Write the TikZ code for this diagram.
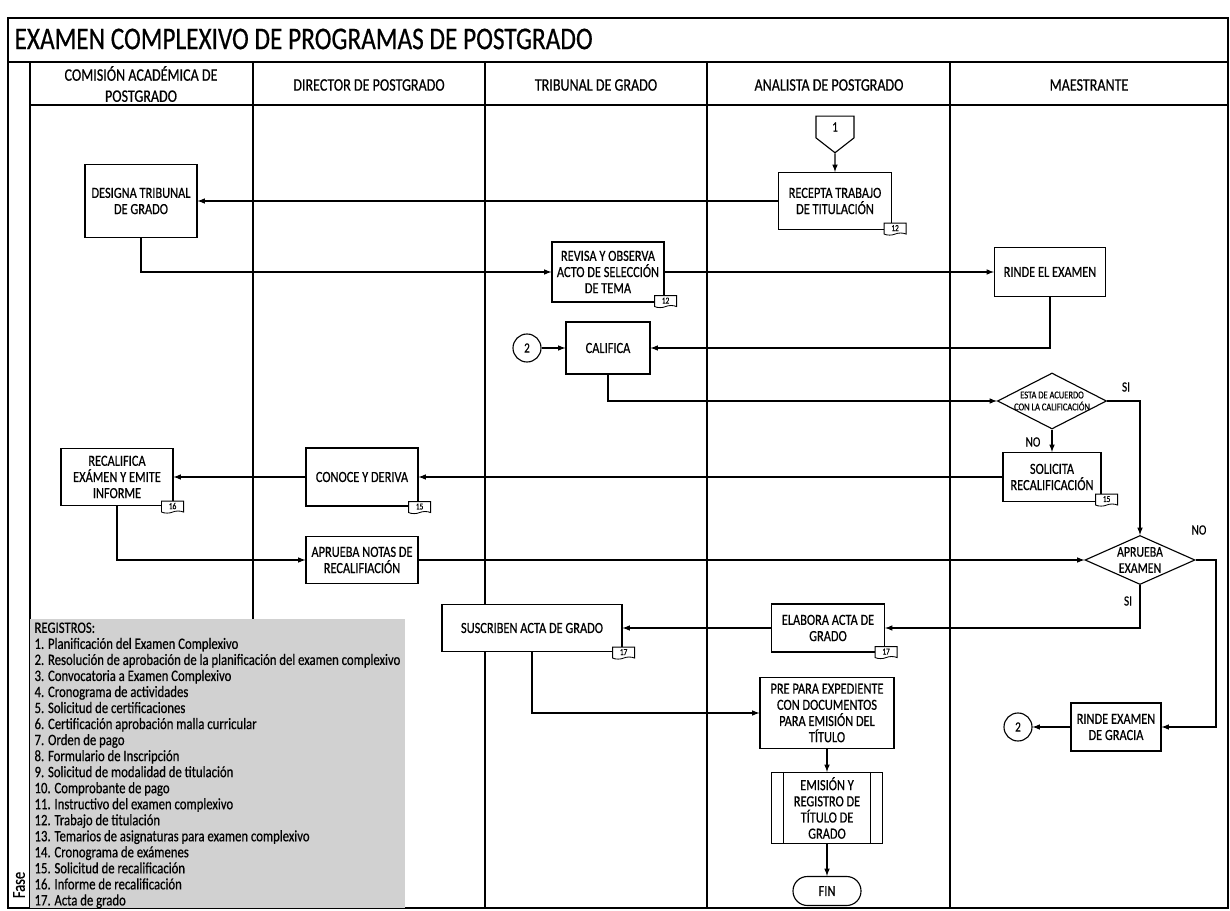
\documentclass[tikz,border=0pt]{standalone}
\usepackage{fontspec}
\setmainfont{Carlito}[FakeStretch=0.8, FakeBold=0.5]
\usepackage{tikz}
\usetikzlibrary{positioning,shapes.geometric,shapes.symbols,arrows}
\definecolor{regfill}{gray}{0.82}

\begin{document}
\begin{tikzpicture}[
x=0.025cm, y=-0.025cm,
line width=0.8pt,
proc/.style={
  draw,
  fill=white,
  align=center,
  inner sep=1pt,
  font=\fontsize{11}{11.5}\selectfont
},
decision/.style={
  draw,
  diamond,
  fill=white,
  inner sep=0pt
},
dtext/.style={
  align=center,
  inner sep=0pt
},
conn/.style={
  draw,
  circle,
  fill=white,
  inner sep=0pt,
  minimum size=0.7cm,
  font=\fontsize{10}{11}\selectfont
},
regdoc/.style={
  draw,
  tape,
  tape bend top=none,
  tape bend height=1.5pt,
  fill=white,
  inner sep=0pt,
  line width=0.6pt,
  minimum width=0.55cm,
  minimum height=0.3cm,
  font=\fontsize{6.5}{6.5}\selectfont
},
lbl/.style={font=\fontsize{10}{11}\selectfont},
head/.style={align=center, inner sep=0pt, font=\fontsize{12.5}{15}\selectfont}
]
\useasboundingbox (0,0) rectangle (1230,911);

\draw (8,18) rectangle (1228,908);
\draw (8,62) -- (1228,62);
\draw (30,62) -- (30,908);
\draw (30,105) -- (1228,105);
\foreach \lx in {253,485,707,950}
  \draw (\lx,62) -- (\lx,908);

\node[anchor=west, inner sep=0pt, font=\fontsize{22.5}{26}\selectfont]
  (title) at (14,39) {EXAMEN COMPLEXIVO DE PROGRAMAS DE POSTGRADO};
\node[rotate=90, font=\fontsize{13}{15}\selectfont]
  (fase) at (19,885) {Fase};
\node[head] (hcom) at (141,84) {COMISIÓN ACADÉMICA DE\\POSTGRADO};
\node[head] (hdir) at (369,85) {DIRECTOR DE POSTGRADO};
\node[head] (htri) at (596,85) {TRIBUNAL DE GRADO};
\node[head] (hana) at (829,85) {ANALISTA DE POSTGRADO};
\node[head] (hmae) at (1089,85) {MAESTRANTE};

\fill[regfill] (30,619) rectangle (405,908);
\node[anchor=north west, align=left, inner sep=0pt, font=\fontsize{11.3}{11.4}\selectfont]
  (reg) at (34,622) {REGISTROS:\\
  1. Planificación del Examen Complexivo\\
  2. Resolución de aprobación de la planificación del examen complexivo\\
  3. Convocatoria a Examen Complexivo\\
  4. Cronograma de actividades\\
  5. Solicitud de certificaciones\\
  6. Certificación aprobación malla curricular\\
  7. Orden de pago\\
  8. Formulario de Inscripción\\
  9. Solicitud de modalidad de titulación\\
  10. Comprobante de pago\\
  11. Instructivo del examen complexivo\\
  12. Trabajo de titulación\\
  13. Temarios de asignaturas para examen complexivo\\
  14. Cronograma de exámenes\\
  15. Solicitud de recalificación\\
  16. Informe de recalificación\\
  17. Acta de grado};

\node[draw, signal, signal to=south, signal from=nowhere, signal pointer angle=104,
  fill=white, inner sep=0pt, minimum width=0.95cm, minimum height=0.6cm,
  font=\fontsize{10}{11}\selectfont]
  (c1) at (835,127) {1};
\node[proc, minimum width=2.825cm, minimum height=1.425cm]
  (recepta) at (835,201) {RECEPTA TRABAJO\\DE TITULACIÓN};
\node[proc, minimum width=2.8cm, minimum height=1.825cm]
  (designa) at (141,201) {DESIGNA TRIBUNAL\\DE GRADO};
\node[proc, minimum width=2.8cm, minimum height=1.5cm]
  (revisa) at (608,272) {REVISA Y OBSERVA\\ACTO DE SELECCIÓN\\DE TEMA};
\node[proc, minimum width=2.775cm, minimum height=1.225cm]
  (rinde) at (1050,272) {RINDE EL EXAMEN};
\node[conn] (c2a) at (527,348) {2};
\node[proc, minimum width=2.1cm, minimum height=1.3cm]
  (califica) at (608,348) {CALIFICA};
\node[decision, minimum width=2.725cm, minimum height=1.4cm,
  label={[dtext, font=\fontsize{7.5}{8.5}\selectfont]center:{ESTA DE ACUERDO\\CON LA CALIFICACIÓN}}]
  (d1) at (1052,401) {};
\node[proc, minimum width=2.45cm, minimum height=1.225cm]
  (solicita) at (1052,477) {SOLICITA\\RECALIFICACIÓN};
\node[proc, minimum width=2.8cm, minimum height=1.45cm]
  (conoce) at (362,477) {CONOCE Y DERIVA};
\node[proc, minimum width=2.8cm, minimum height=1.425cm]
  (recalifica) at (117,477) {RECALIFICA\\EXÁMEN Y EMITE\\INFORME};
\node[proc, minimum width=2.8cm, minimum height=1.175cm]
  (notas) at (362,560) {APRUEBA NOTAS DE\\RECALIFIACIÓN};
\node[decision, minimum width=2.75cm, minimum height=1.225cm,
  label={[dtext, font=\fontsize{10.5}{11.5}\selectfont]center:{APRUEBA\\EXAMEN}}]
  (d2) at (1140,560) {};
\coordinate (nobend) at (1216,560);
\node[proc, minimum width=2.825cm, minimum height=1.2cm]
  (elabora) at (828,628) {ELABORA ACTA DE\\GRADO};
\node[proc, minimum width=4.5cm, minimum height=1.175cm]
  (suscriben) at (532,628) {SUSCRIBEN ACTA DE GRADO};
\node[proc, minimum width=3.35cm, minimum height=1.775cm]
  (prepara) at (827,713) {PRE PARA EXPEDIENTE\\CON DOCUMENTOS\\PARA EMISIÓN DEL\\TÍTULO};
\node[proc, minimum width=2.775cm, minimum height=1.775cm]
  (emision) at (827,808) {EMISIÓN Y\\REGISTRO DE\\TÍTULO DE\\GRADO};
\draw ([xshift=0.325cm]emision.north west) -- ([xshift=0.325cm]emision.south west);
\draw ([xshift=-0.325cm]emision.north east) -- ([xshift=-0.325cm]emision.south east);
\node[proc, rounded corners=0.36cm, minimum width=1.7cm, minimum height=0.725cm]
  (fin) at (827,891) {FIN};
\node[proc, minimum width=2.25cm, minimum height=1.2cm]
  (gracia) at (1116,727) {RINDE EXAMEN\\DE GRACIA};
\node[conn] (c2b) at (1018,727) {2};

\node[regdoc] (t12a) at ([shift={(3,-2)}]recepta.south east) {12};
\node[regdoc] (t12b) at ([shift={(1,-2)}]revisa.south east) {12};
\node[regdoc] (t15a) at ([shift={(1,0)}]conoce.south east) {15};
\node[regdoc] (t15b) at ([shift={(5,-3)}]solicita.south east) {15};
\node[regdoc] (t16) at ([shift={(-1,0)}]recalifica.south east) {16};
\node[regdoc] (t17a) at ([shift={(1,-1)}]elabora.south east) {17};
\node[regdoc] (t17b) at ([shift={(1,0)}]suscriben.south east) {17};

\node[lbl] (si1) at (1126,387) {SI};
\node[lbl] (no1) at (1033,442) {NO};
\node[lbl] (no2) at (1199,530) {NO};
\node[lbl] (si2) at (1128,601) {SI};

\draw[-latex] (c1) -- (recepta);
\draw[-latex] (recepta) -- (designa);
\draw[-latex] (designa) |- (revisa);
\draw[-latex] (revisa) -- (rinde);
\draw[-latex] (rinde) |- (califica);
\draw[-latex] (c2a) -- (califica);
\draw[-latex] (califica) |- (d1);
\draw[-latex] (d1) -| (d2);
\draw[-latex] (d1) -- (solicita);
\draw[-latex] (solicita) -- (conoce);
\draw[-latex] (conoce) -- (recalifica);
\draw[-latex] (recalifica) |- (notas);
\draw[-latex] (notas) -- (d2);
\draw[-latex] (d2) -- (nobend) |- (gracia);
\draw[-latex] (d2) |- (elabora);
\draw[-latex] (elabora) -- (suscriben);
\draw[-latex] (suscriben) |- (prepara);
\draw[-latex] (prepara) -- (emision);
\draw[-latex] (emision) -- (fin);
\draw[-latex] (gracia) -- (c2b);
\end{tikzpicture}
\end{document}
